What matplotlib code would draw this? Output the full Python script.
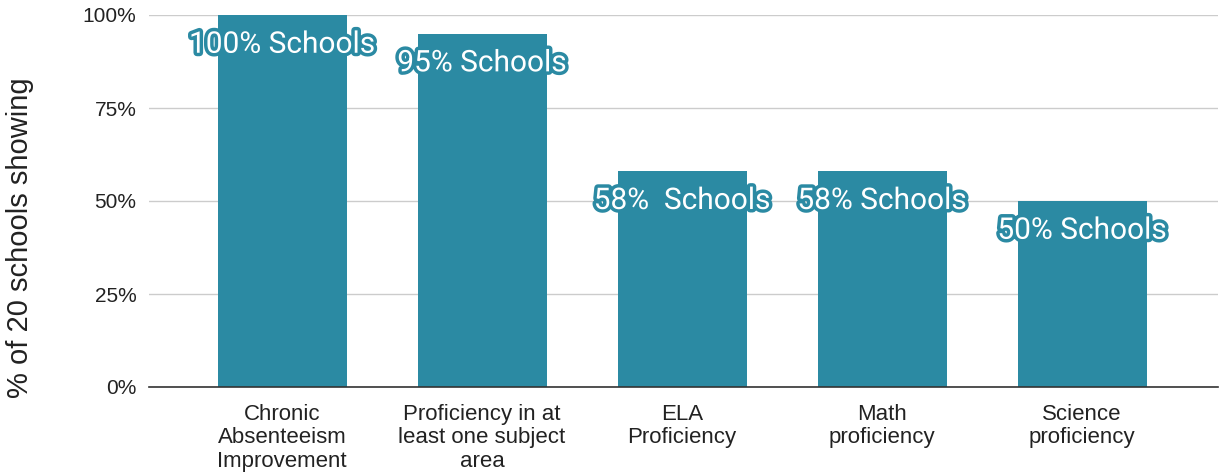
import matplotlib.pyplot as plt
import matplotlib.patheffects as pe
from matplotlib.ticker import FuncFormatter

# data
categories = ['Chronic\nAbsenteeism\nImprovement',
              'Proficiency in at\nleast one subject\narea',
              'ELA\nProficiency',
              'Math\nproficiency',
              'Science\nproficiency']
values = [100, 95, 58, 58, 50]
labels = ['100% Schools', '95% Schools', '58%  Schools', '58% Schools', '50% Schools']

bar_color = '#2b8aa3'

plt.rcParams['font.family'] = ['Liberation Sans', 'DejaVu Sans']

fig = plt.figure(figsize=(12.19, 4.75), dpi=100)
ax = fig.add_axes([149 / 1219, 1 - 387 / 475, (1218 - 149) / 1219, 372 / 475])

x = list(range(len(categories)))
ax.bar(x, values, width=0.645, color=bar_color, zorder=2)

ax.set_xlim(-0.665, 4.68)
ax.set_ylim(0, 100)
ax.set_yticks([0, 25, 50, 75, 100])
ax.yaxis.set_major_formatter(FuncFormatter(lambda v, p: '%d%%' % v))
ax.grid(axis='y', color='#cccccc', linewidth=1, zorder=0)
for s in ['top', 'right', 'left']:
    ax.spines[s].set_visible(False)
ax.spines['bottom'].set_color('#333333')
ax.spines['bottom'].set_linewidth(1.2)
ax.spines['bottom'].set_zorder(3)
ax.tick_params(axis='both', length=0, colors='#222222')
ax.tick_params(axis='y', labelsize=15, pad=9)
ax.tick_params(axis='x', labelsize=16, pad=12)
ax.set_xticks(x)
ax.set_xticklabels(categories, linespacing=1.17)

# y label sits a bit below the axes centre in the original
fig.text(20 / 1219, 1 - 238 / 475, '% of 20 schools showing', rotation=90,
         ha='center', va='center', fontsize=21, color='#222222')

for xi, v, lab in zip(x, values, labels):
    ax.text(xi, v - 8, lab, ha='center', va='center', fontsize=21.5,
            family=['Roboto', 'DejaVu Sans'], color='white', zorder=4,
            path_effects=[pe.withStroke(linewidth=5, foreground=bar_color)])

fig.savefig('out.png', dpi=100)
